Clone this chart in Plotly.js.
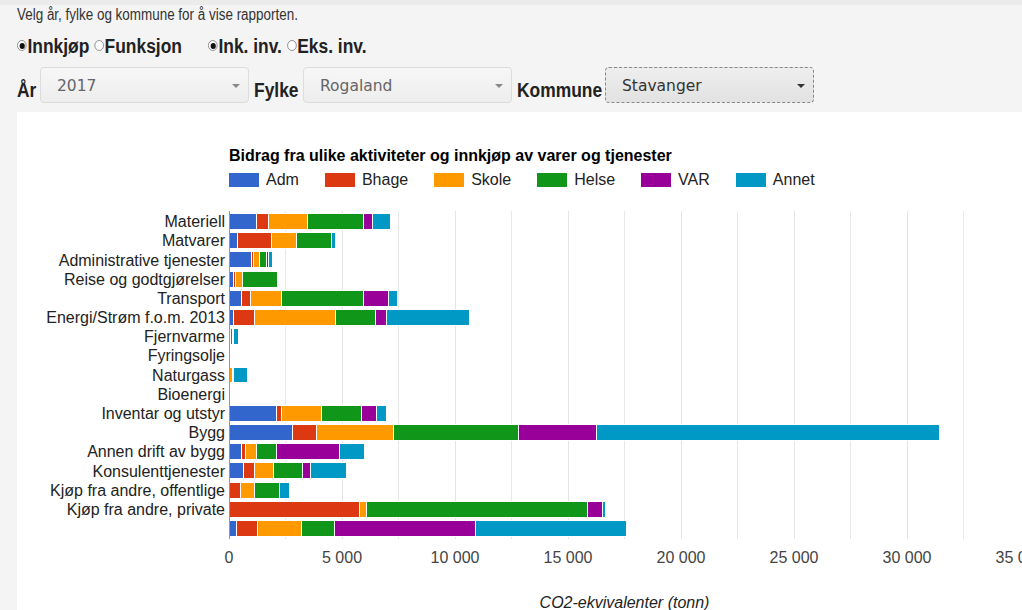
<!DOCTYPE html>
<html>
<head>
<meta charset="utf-8">
<script src="https://cdn.plot.ly/plotly-3.0.1.min.js"></script>
<style>
  html, body { margin:0; padding:0; width:1022px; height:610px; overflow:hidden; background:#f4f4f4; }
  #topstrip { position:absolute; left:0; top:0; width:1022px; height:5px; background:#ebebeb; }
  .narrow { font-family:"Liberation Sans",Arial,sans-serif; color:#222; position:absolute; white-space:nowrap; transform-origin:0 50%; }
  #intro { left:17px; top:6px; font-size:16px; color:#333; transform:scaleX(0.84); }
  .lbl { font-weight:bold; font-size:20px; transform:scaleX(0.87); }
  .radio { display:inline-block; width:9px; height:9px; border:1px solid #888; border-radius:50%; background:#fff; position:relative; margin-right:1px; vertical-align:2px; }
  .radio.on::after { content:""; position:absolute; left:1.5px; top:1.5px; width:6px; height:6px; border-radius:50%; background:#111; }
  .sel { position:absolute; top:67px; height:36px; width:209px; border:1px solid #dcdcdc; border-radius:4px; box-sizing:border-box;
         background:linear-gradient(#f7f7f7,#ededed); font-family:"DejaVu Sans",sans-serif; font-size:15.5px; color:#666; }
  .sel span.t { position:absolute; left:16px; top:9px; }
  .sel span.a { position:absolute; right:8px; top:16px; width:0; height:0; border-left:4px solid transparent; border-right:4px solid transparent; border-top:4px solid #888; }
  .sel.focus { border:1px dashed #888; background:linear-gradient(#eeeeee,#e2e2e2); color:#333; }
  .sel.focus span.a { border-top-color:#333; }
  #chartbox { position:absolute; left:17px; top:112px; width:1100px; height:520px; background:#fff; }
  #chart { position:absolute; left:0; top:0; }
  #legend { position:absolute; left:212px; top:59px; display:flex; font-family:"Liberation Sans",Arial,sans-serif; font-size:16px; color:#222; }
  #legend .it { display:flex; align-items:center; margin-right:26px; }
  #legend .sw { width:30px; height:14px; margin-right:7px; }
</style>
</head>
<body>
<div id="topstrip"></div>
<div id="intro" class="narrow">Velg år, fylke og kommune for å vise rapporten.</div>
<div class="narrow lbl" style="left:17px; top:35px;"><span class="radio on"></span>Innkjøp <span class="radio"></span>Funksjon</div>
<div class="narrow lbl" style="left:208px; top:35px;"><span class="radio on"></span>Ink. inv. <span class="radio"></span>Eks. inv.</div>
<div class="narrow lbl" style="left:17px; top:79px;">År</div>
<div class="sel" style="left:40px;"><span class="t">2017</span><span class="a"></span></div>
<div class="narrow lbl" style="left:254px; top:79px;">Fylke</div>
<div class="sel" style="left:303px;"><span class="t">Rogaland</span><span class="a"></span></div>
<div class="narrow lbl" style="left:517px; top:79px;">Kommune</div>
<div class="sel focus" style="left:605px;"><span class="t">Stavanger</span><span class="a"></span></div>

<div id="chartbox">
  <div id="chart"></div>
  <div id="legend"></div>
</div>

<script>
// ---- data ----
const categories = ["Materiell","Matvarer","Administrative tjenester","Reise og godtgjørelser","Transport",
  "Energi/Strøm f.o.m. 2013","Fjernvarme","Fyringsolje","Naturgass","Bioenergi","Inventar og utstyr","Bygg",
  "Annen drift av bygg","Konsulenttjenester","Kjøp fra andre, offentlige","Kjøp fra andre, private",""];
const seriesNames = ["Adm","Bhage","Skole","Helse","VAR","Annet"];
const seriesColors = ["#3366cc","#dc3912","#ff9900","#109618","#990099","#0099c6"];
const adm   = [1200, 380, 1000, 190,  560,  190,  70, 0,   0, 0, 2080,  2800,  560,  630,    0,    0,  340];
const bhage = [ 530,1500,   80,  90,  370,  960,  80, 0,  40, 0,  250,  1080,  180,  520,  520, 5770,  930];
const skole = [1730,1100,  280, 310, 1400, 3550,  50, 0, 100, 0, 1770,  3390,  460,  810,  630,  320, 1950];
const helse = [2480,1550,  280,1550, 3640, 1800,  20, 0,  60, 0, 1780,  5560,  910, 1280, 1080, 9770, 1430];
const varv  = [ 400,   0,  100,   0, 1090,  460,   0, 0,   0, 0,  660,  3440, 2760,  380,    0,  680, 6270];
const annet = [ 800, 190,  200,  30,  380, 3660, 220, 0, 630, 0,  440, 15150, 1110, 1580,  430,  100, 6680];
const xTickVals = [0,5000,10000,15000,20000,25000,30000,35000];
const chartTitle = "Bidrag fra ulike aktiviteter og innkjøp av varer og tjenester";
const xTitle = "CO2-ekvivalenter (tonn)";

const values = [adm, bhage, skole, helse, varv, annet];
const idx = categories.map((c, i) => i);

const traces = values.map((v, k) => ({
  type: "bar", orientation: "h",
  name: seriesNames[k], x: v, y: idx,
  marker: { color: seriesColors[k], line: { color: "#ffffff", width: 1 } },
  hoverinfo: "none"
}));

const layout = {
  width: 1043, height: 502,
  margin: { l: 212, r: 40, t: 99, b: 75 },
  paper_bgcolor: "#ffffff", plot_bgcolor: "#ffffff",
  barmode: "stack", bargap: 0.17,
  showlegend: false,
  separators: ", ",
  font: { family: "Liberation Sans, Arial, sans-serif", size: 16, color: "#222" },
  title: { text: "<b>" + chartTitle + "</b>", x: 0, xref: "paper", xanchor: "left",
           y: 1 - 43/502, yref: "container", yanchor: "middle",
           font: { family: "Liberation Sans, Arial, sans-serif", size: 16, color: "#000" } },
  xaxis: {
    range: [0, 35000], tickvals: xTickVals, tickformat: ",d",
    showgrid: true, gridcolor: "#e4e4e4", gridwidth: 1,
    minor: { dtick: 2500, showgrid: true, gridcolor: "#e8e8e8", gridwidth: 1 },
    zeroline: false, showline: false, ticks: "",
    ticklabelstandoff: 7,
    tickfont: { size: 16, color: "#444" },
    title: { text: "<i>" + xTitle + "</i>", standoff: 31, font: { size: 16, color: "#222" } },
    automargin: false
  },
  yaxis: {
    range: [16.55, -0.55], tickvals: idx, ticktext: categories,
    showgrid: false, zeroline: false, ticks: "",
    showline: false,
    tickfont: { size: 16, color: "#222" },
    ticklabelstandoff: 3,
    automargin: false
  },
  shapes: [{ type: "line", xref: "x", yref: "paper", x0: 0, x1: 0, y0: 0, y1: 1,
             line: { color: "#333", width: 1 }, layer: "above" }]
};

Plotly.newPlot("chart", traces, layout, { staticPlot: true, displayModeBar: false });

// legend built from the series arrays
const lg = document.getElementById("legend");
seriesNames.forEach((n, k) => {
  const it = document.createElement("div"); it.className = "it";
  const sw = document.createElement("div"); sw.className = "sw"; sw.style.background = seriesColors[k];
  const tx = document.createElement("span"); tx.textContent = n;
  it.appendChild(sw); it.appendChild(tx); lg.appendChild(it);
});
</script>
</body>
</html>
